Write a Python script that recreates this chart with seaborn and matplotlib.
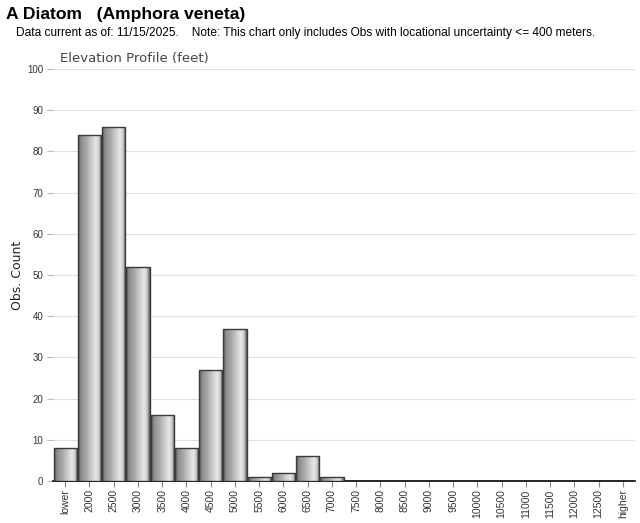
import numpy as np
import pandas as pd
import matplotlib
matplotlib.use("Agg")
import matplotlib.pyplot as plt
import seaborn as sns
from matplotlib.colors import LinearSegmentedColormap

categories = ["lower", "2000", "2500", "3000", "3500", "4000", "4500", "5000",
              "5500", "6000", "6500", "7000", "7500", "8000", "8500", "9000",
              "9500", "10000", "10500", "11000", "11500", "12000", "12500", "higher"]
counts = [8, 84, 86, 52, 16, 8, 27, 37, 1, 2, 6, 1, 0, 0, 0, 0, 0, 0, 0, 0, 0, 0, 0, 0]

df = pd.DataFrame({"cat": categories, "n": counts})

sns.set_theme(style="white")
plt.rcParams['font.family'] = ['Liberation Sans', 'DejaVu Sans']

fig = plt.figure(figsize=(6.4, 5.23), dpi=100)
ax = fig.add_axes([0.083, 0.0803, 0.909, 0.7877])

sns.barplot(data=df, x="cat", y="n", ax=ax, color="#b0b0b0", width=0.96,
            edgecolor="#3a3a3a", linewidth=1.0, zorder=3)

ax.set_ylim(0, 100)
ax.set_xlim(-0.5, len(categories) - 0.5)
ax.set_yticks(np.arange(0, 101, 10))
ax.yaxis.grid(True, color="#e0e0e0", linewidth=0.8, zorder=0)
ax.set_axisbelow(True)

# gradient fill clipped to each bar
cmap = LinearSegmentedColormap.from_list(
    "cyl", [(0.0, "#555555"), (0.12, "#8c8c8c"), (0.35, "#a9a9a9"),
            (0.75, "#e8e8e8"), (0.88, "#cccccc"), (1.0, "#555555")])
grad = np.linspace(0, 1, 256).reshape(1, -1)
for p in list(ax.patches):
    x0, y0 = p.get_x(), p.get_y()
    w, h = p.get_width(), p.get_height()
    if h <= 0:
        p.set_visible(False)
        continue
    im = ax.imshow(grad, cmap=cmap, aspect="auto", extent=[x0, x0 + w, y0, y0 + h],
                   zorder=3.5, interpolation="bicubic")
    im.set_clip_path(p)
    p.set_facecolor("none")
    p.set_zorder(4)

for s in ["top", "right", "left"]:
    ax.spines[s].set_visible(False)
ax.spines["bottom"].set_color("black")
ax.spines["bottom"].set_linewidth(1.2)

ax.tick_params(axis="y", length=4, width=0.8, color="#bbbbbb", labelsize=7, pad=3, left=True)
ax.tick_params(axis="x", length=4, width=0.8, color="#888888", labelsize=7.5, pad=2, bottom=True)
ax.set_xticks(range(len(categories)))
ax.set_xticklabels(categories, rotation=90, color="#333333")
for t in ax.get_yticklabels():
    t.set_color("#333333")

ax.set_xlabel("")
ax.set_ylabel("")
fig.text(0.028, 0.474, "Obs. Count", fontsize=9, family=["DejaVu Sans"], color="#222222",
         rotation=90, ha="center", va="center")

fig.text(0.009, 0.972, "A Diatom   (Amphora veneta)", fontsize=12.6, fontweight="bold",
         ha="left", va="center", color="black")
fig.text(0.025, 0.937, "Data current as of: 11/15/2025.    Note: This chart only includes Obs with locational uncertainty <= 400 meters.",
         fontsize=8.6, ha="left", va="center", color="black")
fig.text(0.094, 0.889, "Elevation Profile (feet)", fontsize=9.5, family=["DejaVu Sans"],
         ha="left", va="center", color="#444444")

fig.savefig("out.png", dpi=100)
